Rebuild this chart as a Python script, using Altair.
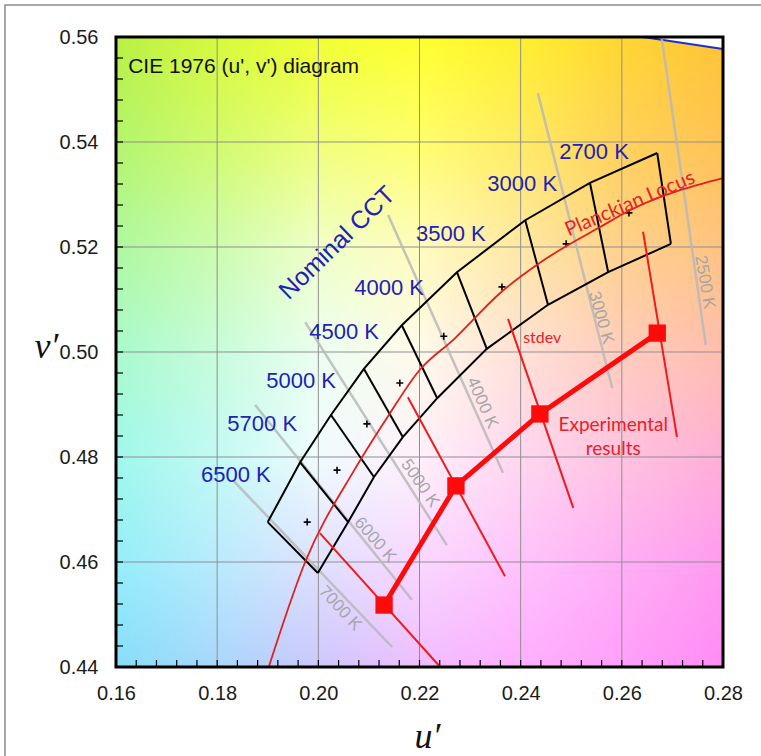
import base64
import struct
import zlib

import numpy as np
import pandas as pd
import altair as alt

# ---------------- data ----------------
# Planckian locus (u', v')
planck_u = [0.1902, 0.1974, 0.2071, 0.2142, 0.2197, 0.2270, 0.2359, 0.2438, 0.2557, 0.2616, 0.2800]
planck_v = [0.4400, 0.4600, 0.4775, 0.4884, 0.4962, 0.5026, 0.5112, 0.5170, 0.5238, 0.5270, 0.5331]

# ANSI quadrangles: upper and lower boundary vertices (6500 K ... 2700 K)
quad_up_u = [0.1900, 0.1964, 0.2025, 0.2090, 0.2165, 0.2274, 0.2409, 0.2537, 0.2670]
quad_up_v = [0.4676, 0.4790, 0.4880, 0.4968, 0.5051, 0.5152, 0.5251, 0.5322, 0.5379]
quad_lo_u = [0.1999, 0.2059, 0.2110, 0.2167, 0.2235, 0.2333, 0.2454, 0.2573, 0.2697]
quad_lo_v = [0.4579, 0.4676, 0.4762, 0.4838, 0.4912, 0.5006, 0.5090, 0.5152, 0.5206]

# quadrangle centres (+ markers)
centre_u = [0.1978, 0.2037, 0.2096, 0.2161, 0.2248, 0.2363, 0.2490, 0.2614]
centre_v = [0.4676, 0.4775, 0.4863, 0.4941, 0.5030, 0.5124, 0.5206, 0.5265]

# nominal CCT labels
cct_names = ["2700 K", "3000 K", "3500 K", "4000 K", "4500 K", "5000 K", "5700 K", "6500 K"]
cct_u = [0.2545, 0.2403, 0.2262, 0.2140, 0.2051, 0.1966, 0.1889, 0.1837]
cct_v = [0.5381, 0.5320, 0.5225, 0.5122, 0.5038, 0.4945, 0.4863, 0.4766]

# isotemperature lines (grey)
iso_names = ["2500 K", "3000 K", "4000 K", "5000 K", "6000 K", "7000 K"]
iso_u1 = [0.2679, 0.2434, 0.2138, 0.1974, 0.1875, 0.1831]
iso_v1 = [0.5598, 0.5493, 0.5261, 0.5057, 0.4899, 0.4756]
iso_u2 = [0.2766, 0.2581, 0.2365, 0.2254, 0.2185, 0.2146]
iso_v2 = [0.5013, 0.4931, 0.4770, 0.4632, 0.4528, 0.4438]
iso_lab_u = [0.2764, 0.2559, 0.2324, 0.2201, 0.2112, 0.2043]
iso_lab_v = [0.5133, 0.5065, 0.4903, 0.4750, 0.4642, 0.4512]
iso_angle = [80, 74, 66, 55, 49, 47]

# experimental results
exp_u = [0.2130, 0.2272, 0.2438, 0.2670]
exp_v = [0.4518, 0.4745, 0.4882, 0.5036]

# stdev segments
sd_u1 = [0.2003, 0.2177, 0.2375, 0.2642]
sd_v1 = [0.4655, 0.4914, 0.5063, 0.5229]
sd_u2 = [0.2241, 0.2369, 0.2504, 0.2709]
sd_v2 = [0.4400, 0.4573, 0.4703, 0.4838]

# spectral locus piece (top right)
spec_u = [0.2642, 0.2800]
spec_v = [0.5600, 0.5577]

# axes
x_ticks = [0.16, 0.18, 0.20, 0.22, 0.24, 0.26, 0.28]
y_ticks = [0.44, 0.46, 0.48, 0.50, 0.52, 0.54, 0.56]
x_grid = [0.18, 0.20, 0.22, 0.24, 0.26]
y_grid = [0.46, 0.48, 0.50, 0.52, 0.54]
x_minor = [round(0.16 + 0.004 * i, 3) for i in range(1, 30)]
y_minor = [round(0.44 + 0.004 * i, 3) for i in range(1, 30)]

# background tint at the grid crossings (rows v' = 0.56 .. 0.44, columns u' = 0.16 .. 0.28)
bg_rows = [
    [(185, 240, 70), (215, 250, 60), (240, 255, 50), (255, 255, 45), (255, 240, 45), (255, 215, 50), (255, 195, 55)],
    [(180, 245, 110), (210, 250, 110), (240, 255, 120), (255, 255, 110), (255, 235, 100), (255, 210, 90), (255, 195, 85)],
    [(175, 248, 160), (205, 252, 175), (240, 255, 200), (255, 252, 190), (255, 232, 165), (255, 210, 140), (255, 195, 130)],
    [(170, 250, 205), (200, 252, 220), (235, 255, 240), (255, 250, 235), (255, 225, 215), (255, 205, 190), (255, 190, 175)],
    [(160, 248, 235), (195, 250, 245), (240, 252, 255), (255, 240, 250), (255, 215, 240), (255, 195, 225), (255, 175, 215)],
    [(150, 238, 250), (185, 235, 252), (225, 225, 255), (250, 215, 255), (255, 195, 252), (255, 175, 245), (255, 155, 240)],
    [(135, 222, 250), (170, 215, 252), (205, 200, 252), (240, 190, 255), (255, 175, 255), (255, 160, 250), (255, 140, 245)],
]

U0, U1, V0, V1 = 0.16, 0.28, 0.44, 0.56
W, H = 607, 630

# ---------------- background image (smooth blend of the tints) ----------------
anchors = np.array(bg_rows, dtype=float)  # (7, 7, 3)
NX, NY = 152, 158
fi = (np.arange(NX) + 0.5) / NX * (anchors.shape[1] - 1)
fj = (np.arange(NY) + 0.5) / NY * (anchors.shape[0] - 1)
i0 = np.clip(np.floor(fi).astype(int), 0, anchors.shape[1] - 2)
j0 = np.clip(np.floor(fj).astype(int), 0, anchors.shape[0] - 2)
ti = (fi - i0)[None, :, None]
tj = (fj - j0)[:, None, None]
a00 = anchors[j0][:, i0]
a01 = anchors[j0][:, i0 + 1]
a10 = anchors[j0 + 1][:, i0]
a11 = anchors[j0 + 1][:, i0 + 1]
img = (a00 * (1 - ti) * (1 - tj) + a01 * ti * (1 - tj) + a10 * (1 - ti) * tj + a11 * ti * tj)
arr = np.clip(img, 0, 255).round().astype(np.uint8)
raw = b"".join(b"\x00" + arr[j].tobytes() for j in range(NY))


def _chunk(t, d):
    return struct.pack(">I", len(d)) + t + d + struct.pack(">I", zlib.crc32(t + d) & 0xFFFFFFFF)


png = (b"\x89PNG\r\n\x1a\n"
       + _chunk(b"IHDR", struct.pack(">IIBBBBB", NX, NY, 8, 2, 0, 0, 0))
       + _chunk(b"IDAT", zlib.compress(raw, 9))
       + _chunk(b"IEND", b""))
bg_url = "data:image/png;base64," + base64.b64encode(png).decode()

# ---------------- scales / axes ----------------
xs = alt.Scale(domain=[U0, U1], nice=False, zero=False)
ys = alt.Scale(domain=[V0, V1], nice=False, zero=False)
xaxis = alt.Axis(values=x_ticks, format=".2f", grid=False, ticks=False, domain=False,
                 labelFlush=False, labelOverlap=False, labelFont="Liberation Sans",
                 labelFontSize=20, labelColor="#1a1a1a", labelPadding=16,
                 title="u′", titleFont="Liberation Serif", titleFontStyle="italic",
                 titleFontWeight="normal", titleFontSize=36, titleColor="#111111",
                 titleX=311, titleY=80, titleAlign="center", titleBaseline="alphabetic")
yaxis = alt.Axis(values=y_ticks, format=".2f", grid=False, ticks=False, domain=False,
                 labelFlush=False, labelOverlap=False, labelFont="Liberation Sans",
                 labelFontSize=20, labelColor="#1a1a1a", labelPadding=18,
                 title="v′", titleFont="Liberation Serif", titleFontStyle="italic",
                 titleFontWeight="normal", titleFontSize=36, titleColor="#111111",
                 titleAngle=0, titleX=-70, titleY=320, titleAlign="center",
                 titleBaseline="alphabetic")


def X(f):
    return alt.X(f, type="quantitative", scale=xs, axis=xaxis)


def Y(f):
    return alt.Y(f, type="quantitative", scale=ys, axis=yaxis)


# ---------------- layers ----------------
bg = alt.Chart(pd.DataFrame({"u": [U0], "v": [V1], "url": [bg_url]})).mark_image(
    width=W, height=H, aspect=False, align="left", baseline="top"
).encode(x=X("u"), y=Y("v"), url="url:N")

spec_df = pd.DataFrame({"u": spec_u, "v": spec_v, "top": [V1] * len(spec_u)})
spec_white = alt.Chart(spec_df).mark_area(color="white", opacity=1, orient="vertical").encode(
    x=X("u"), y=Y("v"), y2="top")
spec_line = alt.Chart(spec_df).mark_line(color="#1f2fc8", strokeWidth=2).encode(x=X("u"), y=Y("v"))

grid_x = alt.Chart(pd.DataFrame({"u": x_grid})).mark_rule(color="#8f8f8f", strokeWidth=1).encode(
    x=X("u"), y=alt.value(0), y2=alt.value(H))
grid_y = alt.Chart(pd.DataFrame({"v": y_grid})).mark_rule(color="#8f8f8f", strokeWidth=1).encode(
    y=Y("v"), x=alt.value(0), x2=alt.value(W))

iso_df = pd.DataFrame({"name": iso_names, "u1": iso_u1, "v1": iso_v1, "u2": iso_u2, "v2": iso_v2,
                       "lu": iso_lab_u, "lv": iso_lab_v, "ang": iso_angle})
iso_lines = alt.Chart(iso_df).mark_rule(color="#b9b9b9", strokeWidth=2.5, opacity=0.85).encode(
    x=X("u1"), y=Y("v1"), x2="u2", y2="v2")
iso_text = alt.Chart(iso_df).mark_text(font="Liberation Sans", fontSize=17, color="#a6a6a6",
                                       align="center", baseline="middle").encode(
    x=X("lu"), y=Y("lv"), text="name:N", angle=alt.Angle("ang:Q", scale=None))

up_df = pd.DataFrame({"u": quad_up_u, "v": quad_up_v, "i": range(len(quad_up_u))})
lo_df = pd.DataFrame({"u": quad_lo_u, "v": quad_lo_v, "i": range(len(quad_lo_u))})
quad_up = alt.Chart(up_df).mark_line(color="black", strokeWidth=2).encode(x=X("u"), y=Y("v"), order="i:Q")
quad_lo = alt.Chart(lo_df).mark_line(color="black", strokeWidth=2).encode(x=X("u"), y=Y("v"), order="i:Q")
cross_df = pd.DataFrame({"u1": quad_up_u, "v1": quad_up_v, "u2": quad_lo_u, "v2": quad_lo_v})
quad_cross = alt.Chart(cross_df).mark_rule(color="black", strokeWidth=2).encode(
    x=X("u1"), y=Y("v1"), x2="u2", y2="v2")

centres = alt.Chart(pd.DataFrame({"u": centre_u, "v": centre_v})).mark_point(
    shape="M-1,0L1,0M0,-1L0,1", size=49, filled=False, color="black", strokeWidth=1.6, opacity=1
).encode(x=X("u"), y=Y("v"))

planck = alt.Chart(pd.DataFrame({"u": planck_u, "v": planck_v, "i": range(len(planck_u))})).mark_line(
    color="#e0201c", strokeWidth=1.8, interpolate="monotone").encode(x=X("u"), y=Y("v"), order="i:Q")

sd_df = pd.DataFrame({"u1": sd_u1, "v1": sd_v1, "u2": sd_u2, "v2": sd_v2})
stdev = alt.Chart(sd_df).mark_rule(color="#ee1c1c", strokeWidth=2).encode(
    x=X("u1"), y=Y("v1"), x2="u2", y2="v2")

exp_df = pd.DataFrame({"u": exp_u, "v": exp_v, "i": range(len(exp_u))})
exp_line = alt.Chart(exp_df).mark_line(color="#ff0a0a", strokeWidth=5).encode(x=X("u"), y=Y("v"), order="i:Q")
exp_pts = alt.Chart(exp_df).mark_square(color="#ff0a0a", size=300, opacity=1).encode(x=X("u"), y=Y("v"))

cct_df = pd.DataFrame({"name": cct_names, "u": cct_u, "v": cct_v})
cct_text = alt.Chart(cct_df).mark_text(font="Liberation Sans", fontSize=22, color="#2121b5",
                                       align="center", baseline="middle").encode(
    x=X("u"), y=Y("v"), text="name:N")

nominal = alt.Chart(pd.DataFrame({"u": [0.2037], "v": [0.5208], "t": ["Nominal CCT"]})).mark_text(
    font="Liberation Sans", fontSize=25, color="#2121b5", align="center", baseline="middle", angle=316
).encode(x=X("u"), y=Y("v"), text="t:N")

cie = alt.Chart(pd.DataFrame({"u": [0.1624], "v": [0.5543], "t": ["CIE 1976 (u', v') diagram"]})).mark_text(
    font="Liberation Sans", fontSize=21, color="#111111", align="left", baseline="middle"
).encode(x=X("u"), y=Y("v"), text="t:N")

red_df = pd.DataFrame({"u": [0.2405, 0.2583, 0.2583], "v": [0.5027, 0.4861, 0.4815],
                       "t": ["stdev", "Experimental", "results"]})
red_small = alt.Chart(red_df.iloc[[0]]).mark_text(font="Lato", fontSize=16, color="#e8202a",
                                                  align="left", baseline="middle").encode(
    x=X("u"), y=Y("v"), text="t:N")
red_big = alt.Chart(red_df.iloc[[1, 2]]).mark_text(font="Lato", fontSize=19, color="#e8202a",
                                                   align="center", baseline="middle").encode(
    x=X("u"), y=Y("v"), text="t:N")
planck_lab = alt.Chart(pd.DataFrame({"u": [0.2616], "v": [0.5282], "t": ["Planckian Locus"]})).mark_text(
    font="Lato", fontSize=20, color="#e8202a", align="center", baseline="middle", angle=337
).encode(x=X("u"), y=Y("v"), text="t:N")

tick_x = alt.Chart(pd.DataFrame({"u": x_minor})).mark_rule(color="black", strokeWidth=1.2).encode(
    x=X("u"), y=alt.value(H), y2=alt.value(H - 7))
tick_y = alt.Chart(pd.DataFrame({"v": y_minor})).mark_rule(color="black", strokeWidth=1.2).encode(
    y=Y("v"), x=alt.value(0), x2=alt.value(7))

frame = alt.Chart(pd.DataFrame({"a": [U0], "b": [U1], "c": [V0], "d": [V1]})).mark_rect(
    filled=False, stroke="black", strokeWidth=3).encode(x=X("a"), x2="b", y=Y("c"), y2="d")

outer = alt.Chart(pd.DataFrame({"k": [0]})).mark_rect(
    filled=False, stroke="#8c8c8c", strokeWidth=1.5).encode(
    x=alt.value(-111), x2=alt.value(700), y=alt.value(-32), y2=alt.value(760))

chart = alt.layer(
    bg, spec_white, grid_x, grid_y, spec_line, iso_lines, iso_text,
    quad_up, quad_lo, quad_cross, centres, planck, stdev, exp_line, exp_pts,
    cct_text, nominal, cie, red_small, red_big, planck_lab, tick_x, tick_y, frame, outer
).properties(
    width=W, height=H,
    autosize=alt.AutoSizeParams(type="none"),
    padding={"left": 116, "top": 37, "right": 38, "bottom": 89},
    background="white",
).configure_view(stroke=None)

chart.save("out.html", embed_options={"renderer": "svg", "actions": False})
